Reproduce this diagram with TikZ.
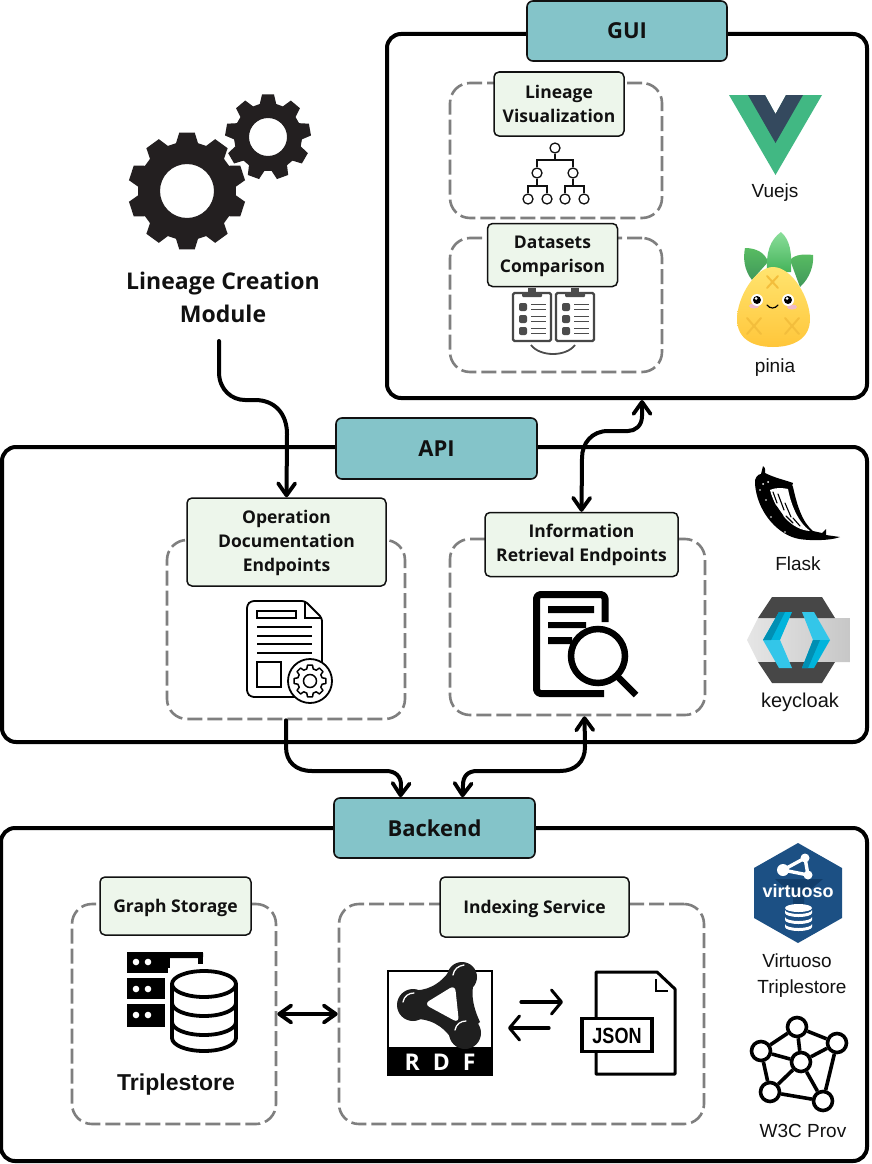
\documentclass[tikz,border=0pt]{standalone}
\usepackage{fontspec}
\setmainfont{Open Sans}
\newfontfamily\labfont{Liberation Sans}
\usetikzlibrary{arrows.meta,shadings}
\definecolor{tabfill}{HTML}{84C4C9}
\definecolor{boxfill}{HTML}{EDF6EB}
\definecolor{dashgray}{HTML}{7F7F7F}
\definecolor{ink}{HTML}{111111}
\definecolor{gearink}{HTML}{231F20}
\definecolor{vuegreen}{HTML}{41B883}
\definecolor{vuedark}{HTML}{34495E}
\definecolor{kcmain}{HTML}{00B4DC}
\definecolor{kclight}{HTML}{33C6E9}
\definecolor{kcdark}{HTML}{008FB3}
\definecolor{virtblue}{HTML}{1C5084}
\definecolor{virtdark}{HTML}{123E6B}
\definecolor{pinetop}{HTML}{FFE46F}
\definecolor{pinebot}{HTML}{FFC63A}
\definecolor{pinex}{HTML}{F3BE3C}
\definecolor{leaftop}{HTML}{8ADE9A}
\definecolor{leafmid}{HTML}{45B35A}
\definecolor{leafside}{HTML}{58BC62}
\definecolor{leafdark}{HTML}{40985A}
\definecolor{blush}{HTML}{EFBBC8}
\newcommand{\tdown}[1]{\rule{0pt}{#1pt}}
\tikzset{
  x=1pt,y=-1pt,
  container/.style={draw=black,line width=4pt,rounded corners=14pt,fill=white},
  tabbox/.style={draw=ink,line width=1.6pt,rounded corners=6pt,fill=tabfill,font=\fontsize{22}{26}\selectfont\bfseries,text=ink,inner sep=0pt},
  sectionbox/.style={draw=ink,line width=1.5pt,rounded corners=5pt,fill=boxfill,font=\fontsize{17.5}{24}\selectfont\bfseries,text=ink,align=center,inner sep=0pt},
  dashbox/.style={draw=dashgray,line width=2.6pt,rounded corners=20pt,dash pattern=on 15pt off 5pt,inner sep=0pt},
  conn/.style={line width=4pt,line cap=round,-{Straight Barb[round,length=12pt,width=17pt,line width=3.8pt]}},
  connboth/.style={line width=4pt,line cap=round,{Straight Barb[round,length=12pt,width=17pt,line width=3.8pt]}-{Straight Barb[round,length=12pt,width=17pt,line width=3.8pt]}},
  thinarrow/.style={line width=3.2pt,line cap=round,-{Straight Barb[round,length=10pt,width=24pt,line width=3pt]}},
  sidelabel/.style={font=\labfont\fontsize{19}{26}\selectfont,text=ink,align=center,inner sep=0pt},
  provnode/.style={circle,draw=black,line width=3.6pt,fill=white,minimum size=19pt,inner sep=0pt},
  provedge/.style={draw=black,line width=3.6pt},
  treenode/.style={circle,draw=ink,line width=1.3pt,fill=white,minimum size=10pt,inner sep=0pt},
  treeedge/.style={draw=ink,line width=1.4pt},
}
% n teeth, outer radius, root radius, outer half angle, root half angle
\newcommand{\gearpts}[5]{({-90+#5}:#3)
  \foreach \i in {1,...,#1}{ -- ({-90+\i*360/#1-#5}:#3) -- ({-90+\i*360/#1-#4}:#2) -- ({-90+\i*360/#1+#4}:#2) -- ({-90+\i*360/#1+#5}:#3)} -- cycle}
\newcommand{\clipboard}[1]{%
  \begin{scope}[shift={(#1,0)}]
    \draw[draw=black!72,line width=2.2pt,fill=white,rounded corners=1.5pt] (0,293) rectangle (38,341);
    \fill[black!70,rounded corners=1pt] (9,292) rectangle (29,297);
    \fill[black!70] (15,288) rectangle (23,293);
    \foreach \yy in {307,319,331}{
      \fill[black!70,rounded corners=2pt] (6,\yy-4) rectangle (14,\yy+4);
      \draw[black!70,line width=1.8pt] (18,\yy-2.5) -- (33,\yy-2.5) (18,\yy+2.5) -- (33,\yy+2.5);
    }
  \end{scope}}
\begin{document}
\begin{tikzpicture}
\useasboundingbox (0,0) rectangle (871,1164);
\fill[white] (0,0) rectangle (871,1164);

% containers
\node[container,minimum width=480pt,minimum height=364pt] (gui) at (627,216) {};
\node[container,minimum width=865pt,minimum height=295pt] (api) at (434.5,594.5) {};
\node[container,minimum width=866pt,minimum height=333pt] (backend) at (434,994.5) {};

% dashed groups
\node[dashbox,minimum width=212pt,minimum height=135pt] (lindash) at (556,150.5) {};
\node[dashbox,minimum width=212pt,minimum height=134pt] (datdash) at (556,305) {};
\node[dashbox,minimum width=238pt,minimum height=179pt] (opdash) at (286,629.5) {};
\node[dashbox,minimum width=255pt,minimum height=176pt] (infodash) at (577.5,627) {};
\node[dashbox,minimum width=204pt,minimum height=220pt] (gsdash) at (174,1014) {};
\node[dashbox,minimum width=365pt,minimum height=220pt] (idxdash) at (521.5,1014) {};

% tabs
\node[tabbox,minimum width=200pt,minimum height=60pt] (guitab) at (627,31) {GUI};
\node[tabbox,minimum width=201pt,minimum height=61pt] (apitab) at (436.5,448.5) {API};
\node[tabbox,minimum width=201pt,minimum height=60pt] (backtab) at (434.5,828) {Backend};

% section boxes
\node[sectionbox,minimum width=130pt,minimum height=64pt] (linbox) at (559,104) {Lineage\\Visualization};
\node[sectionbox,minimum width=130pt,minimum height=63pt] (datbox) at (552.5,255) {\tdown{15}Datasets\\Comparison};
\node[sectionbox,minimum width=199pt,minimum height=88pt] (opbox) at (286.5,542) {\tdown{15}Operation\\Documentation\\Endpoints};
\node[sectionbox,minimum width=193pt,minimum height=64pt] (infobox) at (581.5,544.5) {\tdown{15}Information\\Retrieval Endpoints};
\node[sectionbox,minimum width=151pt,minimum height=58pt] (gsbox) at (175.5,906) {\tdown{17}Graph Storage};
\node[sectionbox,minimum width=189pt,minimum height=60pt] (idxbox) at (534.5,907) {\tdown{17}Indexing Service};

% gears
\begin{scope}[shift={(187,191)}]
  \fill[gearink,even odd rule] \gearpts{10}{59}{49}{7.5}{13} (0,0) circle (27);
\end{scope}
\begin{scope}[shift={(268,137)}]
  \fill[gearink,even odd rule] \gearpts{9}{43}{34}{8}{14} (0,0) circle (19);
\end{scope}
\node[font=\fontsize{23}{33}\selectfont\bfseries,text=ink,align=center,inner sep=0pt] (lcm) at (223,297) {Lineage Creation\\Module};

% lineage tree icon
\node[treenode] (t0) at (555,148) {};
\node[treenode] (t1) at (537,173) {};
\node[treenode] (t2) at (573,173) {};
\node[treenode] (t3) at (528,199) {};
\node[treenode] (t4) at (547,199) {};
\node[treenode] (t5) at (565,199) {};
\node[treenode] (t6) at (584,199) {};
\draw[treeedge] (t0) -- (555,160) (t1) |- (t0 |- 0,160) (t2) |- (t0 |- 0,160);
\draw[treeedge] (t1) -- (537,186) (t3) |- (t1 |- 0,186) (t4) |- (t1 |- 0,186);
\draw[treeedge] (t2) -- (573,186) (t5) |- (t2 |- 0,186) (t6) |- (t2 |- 0,186);

% clipboards
\clipboard{513}
\clipboard{556}
\draw[black!70,line width=1.8pt] (531,345) .. controls (540,357) and (566,357) .. (575,345);

% Vue
\fill[vuegreen] (729,95) -- (822,95) -- (775.5,175) -- cycle;
\fill[white] (765,95) -- (786,95) -- (775.5,114) -- cycle;
\fill[vuedark] (748,95) -- (765,95) -- (775.5,114) -- (786,95) -- (803,95) -- (775.5,143) -- cycle;
\node[sidelabel] (vuelab) at (775,193) {Vuejs};

% Pinia
\shade[top color=leafside,bottom color=leafdark] (745,248) .. controls (755,248) and (765,252) .. (768,262) -- (752,280) .. controls (744,270) and (743,258) .. (745,248) -- cycle;
\shade[top color=leafside,bottom color=leafdark] (813,255) .. controls (805,254) and (795,254) .. (790,260) -- (800,287) .. controls (810,278) and (814,265) .. (813,255) -- cycle;
\shade[top color=leaftop,bottom color=leafmid] (781,232) .. controls (770,240) and (766,252) .. (767,272) -- (791,272) .. controls (792,252) and (790,240) .. (781,232) -- cycle;
\shade[top color=pinetop,bottom color=pinebot] (773,267) .. controls (792,267) and (810,298) .. (810,319) .. controls (810,339) and (793,347) .. (773,347) .. controls (753,347) and (737,339) .. (737,319) .. controls (737,298) and (755,267) .. (773,267) -- cycle;
\draw[pinex,line width=2pt,line cap=round] (767,276) -- (778,288) (778,276) -- (767,288) (747,318) -- (761,334) (761,318) -- (747,334) (785,334) -- (799,318) (785,318) -- (799,334);
\fill[blush] (754,306) ellipse (5 and 2.5) (792,307) ellipse (5 and 2.5);
\fill[white] (757,300) circle (6) (788,300) circle (6);
\fill[black] (757,300) circle (4) (788,300) circle (4);
\fill[white] (756,298.5) circle (1.5) (787,298.5) circle (1.5);
\draw[black,line width=1.2pt,line cap=round] (767,305) .. controls (770,309) and (775,309) .. (778,305);
\node[sidelabel] (pinlab) at (775,368) {pinia};

% Operation document icon
\draw[black,line width=1.8pt,line join=round,rounded corners=3pt,fill=white] (305,601) -- (251,601) -- (247,605) -- (247,693) -- (251,697) -- (318,697) -- (322,693) -- (322,618) -- cycle;
\draw[black,line width=1.8pt] (305,601) -- (305,618) -- (322,618);
\draw[black,line width=1.6pt] (257,611) rectangle (296,618);
\draw[black,line width=1.6pt] (257,627) -- (312,627) (257,636) -- (312,636) (257,644) -- (312,644) (257,653) -- (312,653);
\draw[black,line width=1.6pt] (257,662) rectangle (281,687);
\draw[black,line width=1.8pt,fill=white] (310,681) circle (22);
\begin{scope}[shift={(310,681)}]
  \draw[black,line width=1.5pt,line join=round] \gearpts{8}{16}{12.5}{9}{15};
  \draw[black,line width=1.5pt] (0,0) circle (6.5);
\end{scope}

% Search icon
\draw[black,line width=7pt,line join=round,rounded corners=4pt] (605,622) -- (605,594.5) -- (536.5,594.5) -- (536.5,693.5) -- (604,693.5);
\fill[black] (548,606) rectangle (594,613) (548,622) rectangle (586,628) (548,637) rectangle (572,644);
\draw[black,line width=6.5pt,fill=white] (598,656) circle (27);
\draw[black,line width=6.5pt] (618,677) -- (636,695);

% Flask
\fill[black] (763,466) .. controls (766,468) and (765,471) .. (765,473) .. controls (775,478) and (785,480) .. (793,483)
  .. controls (792,485) and (792,486) .. (793,487) .. controls (797,505) and (802,522) .. (813,531)
  -- (822,533) -- (826,529) -- (826,535) -- (840,537) .. controls (830,541) and (805,541) .. (795,538)
  .. controls (775,532) and (757,510) .. (755,484) .. controls (754,478) and (758,474) .. (761,474) -- cycle;
\fill[white] (770,490) .. controls (777,487) and (783,488) .. (788,489) .. controls (791,505) and (798,522) .. (810,531) .. controls (792,530) and (776,512) .. (770,490) -- cycle;
\draw[black,line width=1.1pt,line cap=round] (773,492) -- (777,503) (778,494) -- (784,510) (776,506) -- (783,516) (785,503) -- (791,517) (786,516) -- (793,523) (793,518) -- (800,526);
\fill[white] (763,484) circle (1) (768,482) circle (1) (760,490) circle (.8) (766,500) circle (.8) (771,517) circle (.8) (785,532) circle (.8);
\node[sidelabel] (flasklab) at (798,564) {Flask};

% Keycloak
\shade[left color=black!10,right color=black!22] (758,618) -- (850,618) -- (850,662) -- (758,662) -- (747,640) -- cycle;
\fill[black!72] (772,597) -- (822,597) -- (835,618) -- (758,618) -- cycle (758,662) -- (835,662) -- (822,683) -- (772,683) -- cycle;
\fill[kcmain] (779,612) -- (792,612) -- (780,640) -- (763,640) -- cycle;
\fill[kclight] (763,640) -- (780,640) -- (792,668) -- (779,668) -- cycle;
\fill[kcdark] (779,612) -- (763,640) -- (771,640) -- (785,612) -- cycle;
\fill[kclight] (802,612) -- (814,612) -- (830,640) -- (813,640) -- cycle;
\fill[kcmain] (813,640) -- (830,640) -- (814,668) -- (802,668) -- cycle;
\fill[kcdark] (813,640) -- (802,668) -- (808,668) -- (820,640) -- cycle;
\node[sidelabel,font=\labfont\fontsize{20}{26}\selectfont] (keylab) at (800,702) {keycloak};

% Triplestore icon
\fill[black,rounded corners=1pt] (127,952) rectangle (203,958);
\fill[black] (127,952) rectangle (170,973);
\fill[black] (198,952) rectangle (203,964);
\fill[black] (127,978) rectangle (165,999);
\fill[black] (127,1004) rectangle (165,1027);
\fill[white] (136,962) circle (3.3) (148,962) circle (3.3) (136,989) circle (3.3) (148,989) circle (3.3) (136,1015) circle (3.3) (148,1015) circle (3.3);
\fill[white] (168,968) rectangle (240,1056);
\draw[black,line width=3.8pt,fill=white] (172,984) -- (172,1038) arc[start angle=180,end angle=0,x radius=32,y radius=13] -- (236,984);
\draw[black,line width=3.8pt,fill=white] (204,984) ellipse (32 and 13);
\draw[black,line width=3.8pt] (172,1003) arc[start angle=180,end angle=0,x radius=32,y radius=13];
\draw[black,line width=3.8pt] (172,1022) arc[start angle=180,end angle=0,x radius=32,y radius=13];
\node[font=\labfont\fontsize{23}{26}\selectfont\bfseries,text=ink,inner sep=0pt] (tslab) at (176,1085) {Triplestore};

% RDF icon
\draw[black,line width=1.5pt,fill=white] (388,971) rectangle (492,1075);
\fill[black] (388,1047) rectangle (492,1075);
\fill[black!88] (410,990) .. controls (425,992) and (440,985) .. (450,970)
  -- (476,975) .. controls (470,990) and (472,1005) .. (480,1022)
  -- (455,1045) .. controls (448,1030) and (435,1020) .. (418,1019) -- cycle;
\fill[black!88] (413,1005) circle (16) (462,977) circle (15) (465,1033) circle (16);
\fill[white,rounded corners=6pt] (424,1004) -- (455,985) -- (459,1023) -- cycle;
\draw[white,line width=1.3pt,line cap=round] (403,1002) .. controls (404,996) and (409,993) .. (414,993) (453,975) .. controls (454,969) and (458,966) .. (464,965) (455,1030) .. controls (456,1024) and (461,1021) .. (466,1021);
\node[font=\fontsize{23}{26}\selectfont\bfseries,text=white,inner sep=0pt] (rdflab) at (440,1062) {R\hspace{13pt}D\hspace{13pt}F};

% conversion arrows
\coordinate (ca1) at (521,1002);
\coordinate (ca2) at (563,1002);
\coordinate (ca3) at (549,1028);
\coordinate (ca4) at (508,1028);
\draw[thinarrow] (ca1) -- (ca2);
\draw[thinarrow] (ca3) -- (ca4);

% JSON icon
\draw[black,line width=3pt,line join=round] (657,972) -- (596,972) -- (596,1074) -- (675,1074) -- (675,989) -- cycle;
\draw[black,line width=2.6pt] (656,979) -- (656,991) -- (668,991);
\node[draw=black,line width=3.2pt,fill=white,minimum width=70pt,minimum height=33pt,inner sep=0pt] (jsonbox) at (617,1035) {};
\node[font=\labfont\fontsize{22}{26}\selectfont\bfseries,text=black,inner sep=0pt,xscale=.82,transform shape] (jsonlab) at (617,1036) {JSON};

% Virtuoso
\fill[virtblue] (798,843) -- (842,868) -- (842,918) -- (798,943) -- (754,918) -- (754,868) -- cycle;
\fill[virtdark] (775,879) -- (823,879) -- (804,895) -- (804,910) -- (793,910) -- (793,895) -- cycle;
\draw[white,line width=3.4pt] (783,870) -- (805,858) -- (808,875) -- cycle;
\fill[white] (783,870) circle (6) (805,858) circle (4.5) (808,875) circle (4.5);
\node[font=\labfont\fontsize{18}{20}\selectfont\bfseries,text=white,inner sep=0pt] (virlab) at (798,891) {virtuoso};
\fill[white] (798.5,908) ellipse (13.5 and 4);
\fill[white] (785,913) arc[start angle=180,end angle=0,x radius=13.5,y radius=4] -- (812,910) arc[start angle=0,end angle=180,x radius=13.5,y radius=4] -- cycle;
\fill[white] (785,920) arc[start angle=180,end angle=0,x radius=13.5,y radius=4] -- (812,917) arc[start angle=0,end angle=180,x radius=13.5,y radius=4] -- cycle;
\fill[white] (785,927) arc[start angle=180,end angle=0,x radius=13.5,y radius=4] -- (812,924) arc[start angle=0,end angle=180,x radius=13.5,y radius=4] -- cycle;
\node[sidelabel] (virtext) at (802,976) {\hspace*{-10pt}Virtuoso\\Triplestore};

% W3C Prov icon
\node[provnode] (p1) at (797,1027) {};
\node[provnode] (p2) at (837,1043) {};
\node[provnode] (p3) at (761,1051) {};
\node[provnode] (p4) at (801,1062) {};
\node[provnode] (p5) at (770,1092) {};
\node[provnode] (p6) at (823,1101) {};
\path[provedge] (p1) -- (p2) (p1) -- (p3) (p1) -- (p4) (p3) -- (p4) (p2) -- (p4) (p3) -- (p5) (p4) -- (p5) (p4) -- (p6) (p2) -- (p6) (p5) -- (p6);
\node[sidelabel] (provlab) at (803,1131) {W3C Prov};

% connectors
\coordinate (lcmout) at (219,341);
\draw[conn] (lcmout) -- (219,372) .. controls (219,390) and (232,400) .. (245,400) -- (255,400) .. controls (275,400) and (287,414) .. (287,434) -- (opbox.north);
\draw[connboth] ([xshift=15pt]gui.south) -- (642,416) .. controls (642,426) and (635,431) .. (628,431) -- (608,431) .. controls (592,431) and (582,443) .. (582,458) -- (infobox.north);
\draw[conn] (opdash.south) -- (286,747) .. controls (286,762) and (296,771) .. (312,771) -- (386,771) .. controls (395,771) and (401,776) .. (401,785) -- ([xshift=-34pt]backtab.north);
\draw[connboth] ([xshift=7pt]infodash.south) -- (585,747) .. controls (585,762) and (575,771) .. (560,771) -- (477,771) .. controls (468,771) and (463,776) .. (463,785) -- ([xshift=28pt]backtab.north);
\draw[connboth] (gsdash.east) -- (idxdash.west);
\end{tikzpicture}
\end{document}
